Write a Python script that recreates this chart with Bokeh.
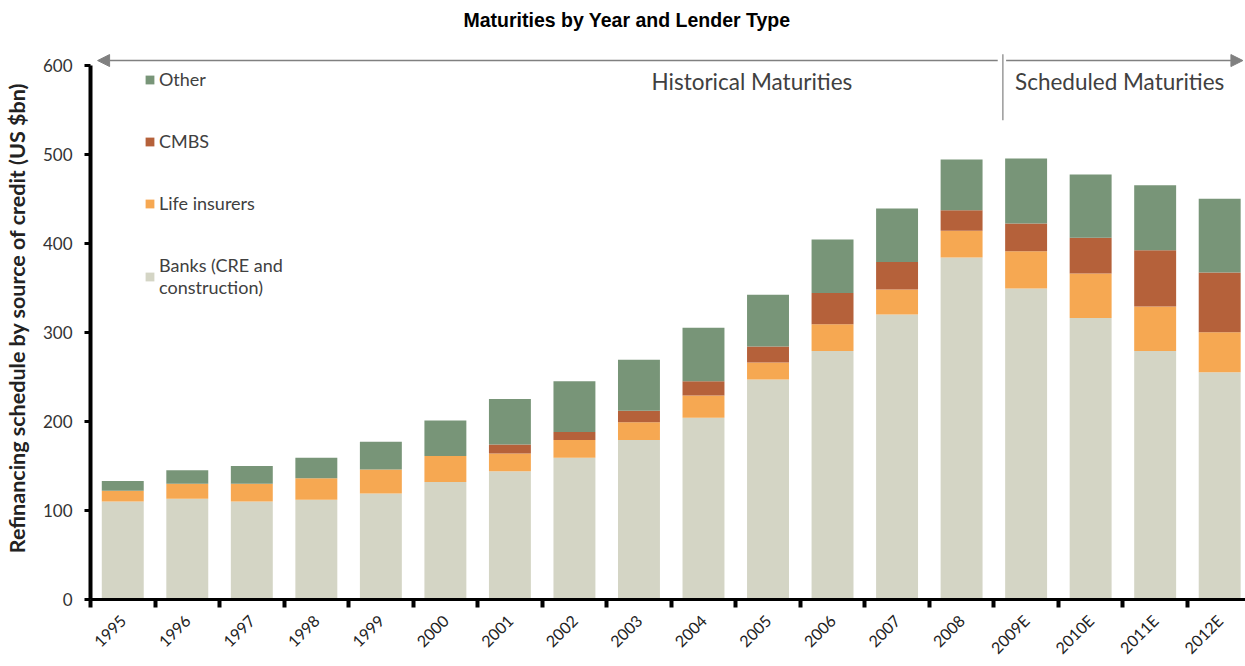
import math
from bokeh.plotting import figure
from bokeh.models import (ColumnDataSource, FixedTicker, CustomJSTickFormatter, Legend,
                          LegendItem, Arrow, NormalHead, Label, Range1d)
from bokeh.embed import file_html
from bokeh.resources import INLINE

years = ["1995", "1996", "1997", "1998", "1999", "2000", "2001", "2002", "2003",
         "2004", "2005", "2006", "2007", "2008", "2009E", "2010E", "2011E", "2012E"]
banks = [110, 113, 110, 112, 119, 132, 144, 159, 179, 204, 247, 279, 320, 384, 349, 316, 279, 255]
life = [12, 17, 20, 24, 27, 29, 20, 20, 20, 25, 19, 30, 28, 30, 42, 50, 50, 45]
cmbs = [0, 0, 0, 0, 0, 0, 10, 9, 13, 16, 18, 35, 31, 23, 31, 40, 63, 67]
other = [11, 15, 20, 23, 31, 40, 51, 57, 57, 60, 58, 60, 60, 57, 73, 71, 73, 83]
y_ticks = [0, 100, 200, 300, 400, 500, 600]

series = ["banks", "life", "cmbs", "other"]
series_labels = ["Banks (CRE and\nconstruction)", "Life insurers", "CMBS", "Other"]
colors = ["#d4d5c5", "#f6a852", "#b5613a", "#789578"]

xpos = [i + 0.5 for i in range(len(years))]
source = ColumnDataSource(dict(x=xpos, banks=banks, life=life, cmbs=cmbs, other=other))

FONT = "Lato"

p = figure(width=1245, height=666, x_range=Range1d(0, 17.9), y_range=Range1d(0, 632),
           output_backend="svg", toolbar_location=None,
           min_border_left=90, min_border_right=0, min_border_top=36, min_border_bottom=67,
           title="Maturities by Year and Lender Type")
p.outline_line_color = None
p.xgrid.visible = False
p.ygrid.visible = False

p.title.text_font = "Liberation Sans"
p.title.text_font_style = "bold"
p.title.text_font_size = "19.5px"
p.title.align = "left"
p.title.offset = 373
p.title.standoff = 12
p.title.text_color = "#000000"

renderers = p.vbar_stack(series, x="x", width=0.65, color=colors, source=source, line_width=0)

# Y axis
yax = p.yaxis[0]
yax.ticker = FixedTicker(ticks=y_ticks)
yax.bounds = (0, 600)
yax.axis_line_width = 4
yax.axis_line_color = "black"
yax.major_tick_line_width = 3
yax.major_tick_out = 6
yax.major_tick_in = 0
yax.minor_tick_line_color = None
yax.major_label_text_font = FONT
yax.major_label_text_font_size = "17px"
yax.major_label_text_color = "#333333"
yax.major_label_standoff = 12
yax.axis_label = "Refinancing schedule by source of credit (US $bn)"
yax.axis_label_text_font = FONT
yax.axis_label_text_font_size = "21.5px"
yax.axis_label_text_font_style = "bold"
yax.axis_label_text_color = "#222222"
yax.axis_label_standoff = 10

# X axis
xax = p.xaxis[0]
xax.ticker = FixedTicker(ticks=xpos, minor_ticks=list(range(0, len(years) + 1)))
xax.formatter = CustomJSTickFormatter(args=dict(labels=years), code="""
    const i = Math.floor(tick);
    return (i >= 0 && i < labels.length) ? labels[i] : "";
""")
xax.axis_line_width = 3
xax.axis_line_color = "black"
xax.major_tick_line_color = None
xax.major_tick_out = 0
xax.major_tick_in = 0
xax.minor_tick_line_width = 4
xax.minor_tick_line_color = "black"
xax.minor_tick_out = 8
xax.minor_tick_in = 0
xax.major_label_orientation = math.pi / 4
xax.major_label_text_font = FONT
xax.major_label_text_font_size = "16px"
xax.major_label_text_color = "#222222"
xax.major_label_standoff = 10

# Legend
items = [LegendItem(label=series_labels[i], renderers=[renderers[i]]) for i in [3, 2, 1, 0]]
legend = Legend(items=items, location=(54, 301), glyph_width=11, glyph_height=11,
                label_text_font=FONT, label_text_font_size="18px", label_text_color="#404040",
                spacing=40, label_height=20, padding=0, margin=0, label_standoff=4,
                background_fill_alpha=0, border_line_color=None)
p.add_layout(legend)

# Period arrows
GRAY = "#808080"
p.add_layout(Arrow(x_start=14.06, y_start=605, x_end=0.11, y_end=605,
                   end=NormalHead(size=12, fill_color=GRAY, line_color=GRAY),
                   line_color=GRAY, line_width=1.5))
p.add_layout(Arrow(x_start=14.19, y_start=605, x_end=17.86, y_end=605,
                   end=NormalHead(size=12, fill_color=GRAY, line_color=GRAY),
                   line_color=GRAY, line_width=1.5))
p.add_layout(Arrow(x_start=14.14, y_start=612, x_end=14.14, y_end=538, end=None,
                   line_color=GRAY, line_width=1.2))

p.add_layout(Label(x=10.25, y=581, text="Historical Maturities", text_align="center",
                   text_baseline="middle", text_font=FONT, text_font_size="22.5px",
                   text_color="#404040"))
p.add_layout(Label(x=15.95, y=581, text="Scheduled Maturities", text_align="center",
                   text_baseline="middle", text_font=FONT, text_font_size="22.5px",
                   text_color="#404040"))

open("out.html", "w").write(file_html(p, INLINE))
